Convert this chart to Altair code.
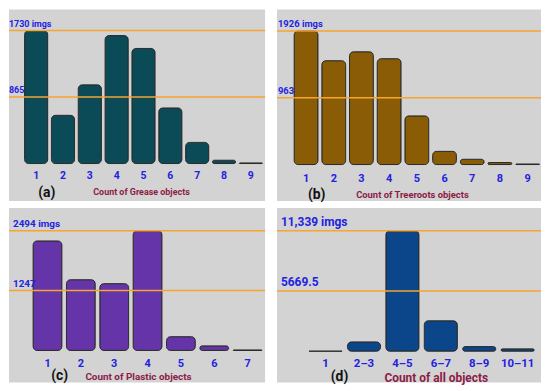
import altair as alt
import pandas as pd

# ---------------- data ----------------
grease_counts = ["1", "2", "3", "4", "5", "6", "7", "8", "9"]
grease_imgs = [1730, 627, 1024, 1665, 1497, 723, 275, 43, 8]

treeroots_counts = ["1", "2", "3", "4", "5", "6", "7", "8", "9"]
treeroots_imgs = [1926, 1497, 1626, 1526, 701, 190, 76, 29, 8]

plastic_counts = ["1", "2", "3", "4", "5", "6", "7"]
plastic_imgs = [2281, 1474, 1392, 2494, 287, 95, 10]

all_counts = ["1", "2–3", "4–5", "6–7", "8–9", "10–11"]
all_imgs = [10, 878, 11339, 2868, 439, 224]

ref_max = [1730, 1926, 2494, 11339]
ref_half = [865, 963, 1247, 5669.5]
max_labels = ["1730 imgs", "1926 imgs", "2494 imgs", "11,339 imgs"]
half_labels = ["865", "963", "1247", "5669.5"]

axis_titles = ["Count of Grease objects", "Count of Treeroots objects",
               "Count of Plastic objects", "Count of all objects"]
tags = ["(a)", "(b)", "(c)", "(d)"]
bar_colors = ["#0b4a57", "#8a5c05", "#6534a8", "#0b468a"]

BG = "#d3d3d3"
ORANGE = "#f6a531"
BLUE = "#2222e0"
MAROON = "#8c1c48"
FONT = "Roboto"


def panel(cats, vals, i, W, H, zero_px, max_px, L, step, bw,
          ref_fs, lab_fs, tit_fs, lab_off, title_x, title_y, tag_x, tag_y, ref_x):
    n = len(cats)
    pi = (step - bw) / step
    leftover = W - step * (n - pi)
    po = leftover / 2 / step
    align = L / leftover
    mx = ref_max[i]
    per_px = mx / (zero_px - max_px)
    dom = [-(H - zero_px) * per_px, mx + max_px * per_px]
    yscale = alt.Scale(domain=dom, nice=False, zero=False)

    df = pd.DataFrame({"c": cats, "v": vals})
    xenc = alt.X(
        "c:N", sort=cats,
        scale=alt.Scale(paddingInner=pi, paddingOuter=po, align=align),
        axis=alt.Axis(
            title=axis_titles[i], orient="bottom", offset=-(H - zero_px),
            domain=False, ticks=False, tickSize=0, grid=False, labelAngle=0,
            labelPadding=lab_off, labelBaseline="middle",
            labelFont=FONT, labelFontWeight="bold", labelFontSize=lab_fs,
            labelColor=BLUE,
            titleFont=FONT, titleFontWeight="bold", titleFontSize=tit_fs,
            titleColor=MAROON, titleX=title_x, titleY=title_y,
            titleBaseline="middle", titleAlign="center", titleAnchor="start",
        ),
    )
    bars = alt.Chart(df).mark_bar(
        cornerRadius=4, stroke="#2b2b2b", strokeWidth=1, color=bar_colors[i]
    ).encode(x=xenc, y=alt.Y("v:Q", scale=yscale, axis=None))

    rdf = pd.DataFrame({"v": [ref_max[i], ref_half[i]],
                        "t": [max_labels[i], half_labels[i]]})
    rules = alt.Chart(rdf).mark_rule(color=ORANGE, strokeWidth=1.5).encode(
        y=alt.Y("v:Q", scale=yscale, axis=None),
        x=alt.value(0), x2=alt.value(W))
    rtext = alt.Chart(rdf).mark_text(
        align="left", baseline="bottom", dy=-2, font=FONT, fontWeight="bold",
        fontSize=ref_fs, color=BLUE
    ).encode(y=alt.Y("v:Q", scale=yscale, axis=None), x=alt.value(ref_x),
             text="t:N")
    tdf = pd.DataFrame({"t": [tags[i]]})
    tag = alt.Chart(tdf).mark_text(
        align="center", baseline="middle", font=FONT, fontWeight="bold",
        fontSize=14, color="#111111"
    ).encode(x=alt.value(tag_x), y=alt.value(tag_y), text="t:N")
    return alt.layer(bars, rules, rtext, tag).properties(width=W, height=H)


pa = panel(grease_counts, grease_imgs, 0, 258, 193, 155.3, 21.3, 15.7, 27.04, 23.3,
           9, 10.5, 9, 12.4, 133, 27.7, 38, 185, 0)
pb = panel(treeroots_counts, treeroots_imgs, 1, 266, 193, 156.3, 21.7, 17.3, 27.9, 24,
           9.5, 11, 9.5, 13.7, 136, 30.4, 40, 187, 1)
pc = panel(plastic_counts, plastic_imgs, 2, 258, 176, 143.6, 23, 24.3, 33.6, 29,
           10, 11, 10, 13.4, 130, 26.4, 51, 169, 4)
pd_ = panel(all_counts, all_imgs, 3, 266, 176, 144.4, 23, 32.3, 38.7, 33.3,
            12, 11.5, 12, 12, 160, 26.6, 63, 170, 4)

chart = alt.vconcat(
    alt.hconcat(pa, pb, spacing=10),
    alt.hconcat(pc, pd_, spacing=10),
    spacing=6,
).properties(padding=0, background="white").configure_view(
    fill=BG, strokeWidth=0
)

chart.save("out.html", embed_options={"renderer": "svg", "actions": False})
